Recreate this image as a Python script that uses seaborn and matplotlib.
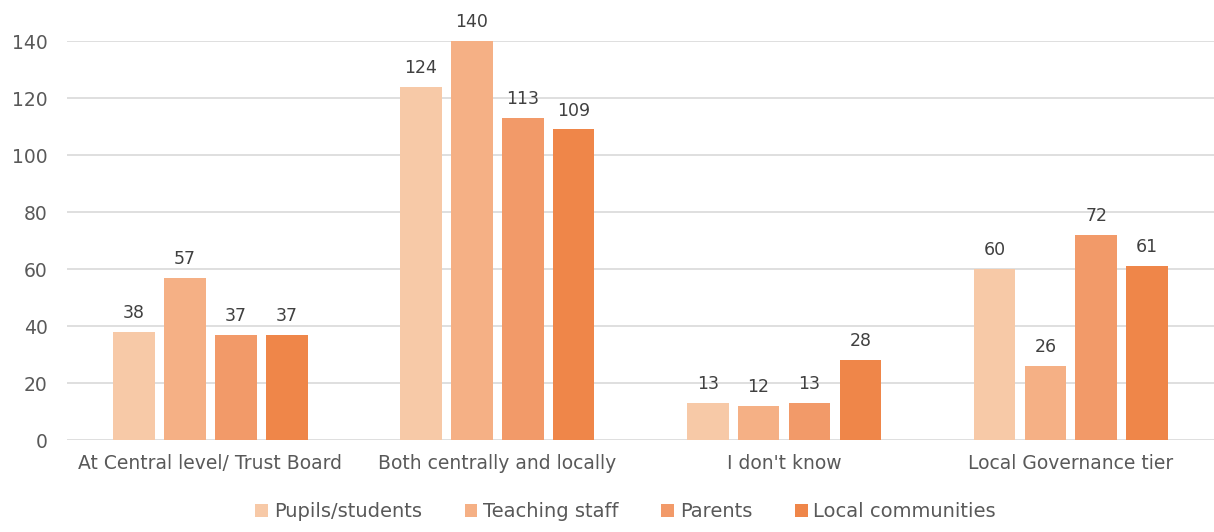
import matplotlib
matplotlib.use("Agg")
import matplotlib.pyplot as plt
import pandas as pd
import seaborn as sns

categories = ["At Central level/ Trust Board", "Both centrally and locally",
              "I don't know", "Local Governance tier"]
series = ["Pupils/students", "Teaching staff", "Parents", "Local communities"]
pupils = [38, 124, 13, 60]
teaching = [57, 140, 12, 26]
parents = [37, 113, 13, 72]
communities = [37, 109, 28, 61]
colors = ["#F7C9A7", "#F5B085", "#F29A69", "#EF8649"]

rows = []
for name, vals in zip(series, [pupils, teaching, parents, communities]):
    for cat, v in zip(categories, vals):
        rows.append({"category": cat, "group": name, "value": v})
df = pd.DataFrame(rows)

sns.set_style("white")
plt.rcParams["font.family"] = ["DejaVu Sans"]

fig = plt.figure(figsize=(12.14, 5.32), dpi=100)
ax = fig.add_axes([0.0552, 0.1729, 0.945, 0.75])

sns.barplot(data=df, x="category", y="value", hue="group",
            palette=colors, saturation=1, width=0.71, gap=0.18,
            linewidth=0, ax=ax, legend=True)

for cont in ax.containers:
    labels = ax.bar_label(cont, padding=7, fontsize=12.5, color="#404040")
    for t in labels:
        t.set_clip_on(False)

ax.set_ylim(0, 140)
ax.set_xlim(-0.5, 3.5)
ax.set_yticks(range(0, 141, 20))
ax.yaxis.grid(True, color="#D9D9D9", linewidth=1.2)
ax.set_axisbelow(True)
for s in ax.spines.values():
    s.set_visible(False)
ax.tick_params(axis="both", length=0, labelsize=13.5, labelcolor="#595959")
ax.tick_params(axis="y", pad=14)
ax.tick_params(axis="x", pad=10)
ax.set_xlabel("")
ax.set_ylabel("")

handles, labs = ax.get_legend_handles_labels()
ax.legend(handles, labs, loc="center", bbox_to_anchor=(0.487, -0.18),
          ncol=4, frameon=False, fontsize=14, handlelength=0.65,
          handleheight=0.65, handletextpad=0.3, columnspacing=2.2,
          labelcolor="#595959")

fig.savefig("out.png", dpi=100)
